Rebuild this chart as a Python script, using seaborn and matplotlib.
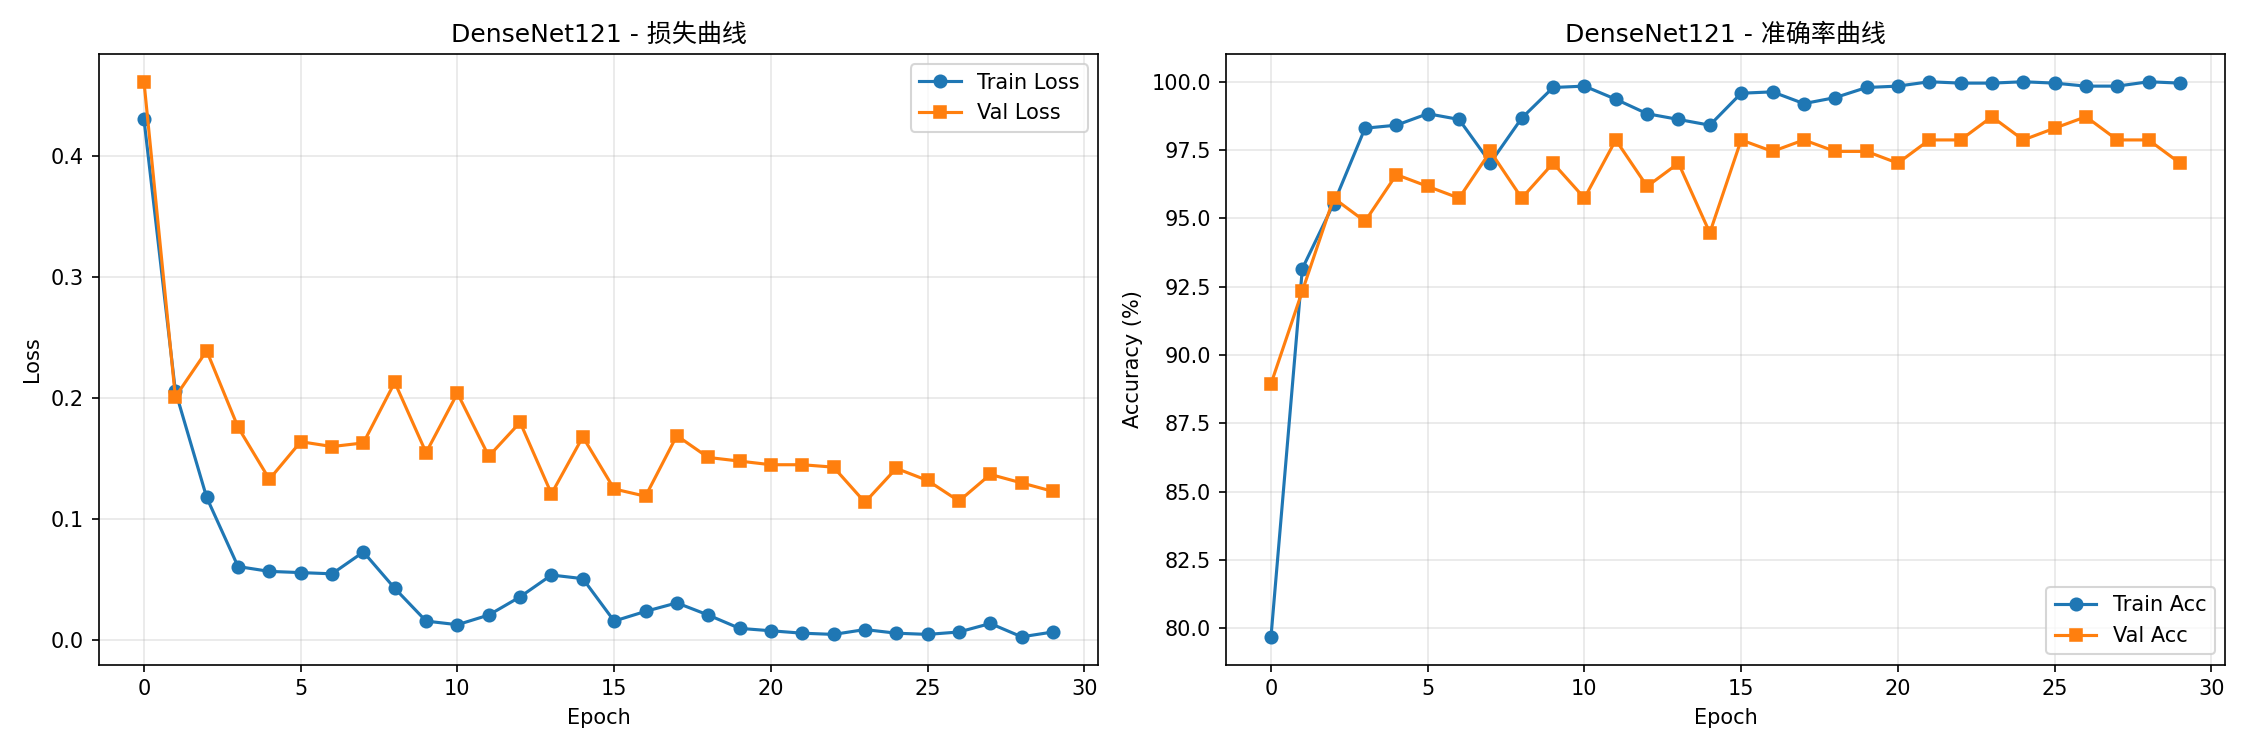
import numpy as np
import matplotlib
matplotlib.use("Agg")
import matplotlib.pyplot as plt
import seaborn as sns

plt.rcParams['font.family'] = ['DejaVu Sans', 'Noto Sans CJK SC']

# ----------------------------
# DATA
# ----------------------------

epochs = list(range(30))

train_loss = [0.430, 0.206, 0.118, 0.061, 0.057, 0.056, 0.055, 0.073, 0.043, 0.016,
              0.013, 0.021, 0.036, 0.054, 0.051, 0.016, 0.024, 0.031, 0.021, 0.010,
              0.008, 0.006, 0.005, 0.009, 0.006, 0.005, 0.007, 0.014, 0.003, 0.007]
val_loss = [0.461, 0.201, 0.239, 0.176, 0.133, 0.164, 0.160, 0.163, 0.213, 0.155,
            0.204, 0.152, 0.180, 0.121, 0.168, 0.125, 0.119, 0.169, 0.151, 0.148,
            0.145, 0.145, 0.143, 0.114, 0.142, 0.132, 0.115, 0.137, 0.130, 0.123]

train_acc = [79.68, 93.16, 95.54, 98.30, 98.41, 98.83, 98.62, 97.03, 98.67, 99.79,
             99.84, 99.36, 98.83, 98.62, 98.41, 99.58, 99.63, 99.20, 99.42, 99.79,
             99.84, 100.0, 99.95, 99.95, 100.0, 99.95, 99.84, 99.84, 100.0, 99.95]
val_acc = [88.94, 92.34, 95.74, 94.89, 96.60, 96.17, 95.74, 97.45, 95.74, 97.02,
           95.74, 97.87, 96.17, 97.02, 94.47, 97.87, 97.45, 97.87, 97.45, 97.45,
           97.02, 97.87, 97.87, 98.72, 97.87, 98.30, 98.72, 97.87, 97.87, 97.02]

model_name = "DenseNet121"

# ----------------------------
# PLOT
# ----------------------------

fig, axes = plt.subplots(1, 2, figsize=(15, 5), dpi=150)

blue = "#1f77b4"
orange = "#ff7f0e"

def draw(ax, y, label, marker, color):
    sns.lineplot(x=epochs, y=y, marker=marker, label=label, color=color, ax=ax,
                 markersize=6, markeredgecolor=color, linewidth=1.5)

# loss
ax = axes[0]
draw(ax, train_loss, "Train Loss", "o", blue)
draw(ax, val_loss, "Val Loss", "s", orange)
ax.set_title(f"{model_name} - 损失曲线")
ax.set_xlabel("Epoch")
ax.set_ylabel("Loss")
ax.grid(True, alpha=0.3)
ax.legend(loc="upper right")

# accuracy
ax = axes[1]
draw(ax, train_acc, "Train Acc", "o", blue)
draw(ax, val_acc, "Val Acc", "s", orange)
ax.set_title(f"{model_name} - 准确率曲线")
ax.set_xlabel("Epoch")
ax.set_ylabel("Accuracy (%)")
ax.grid(True, alpha=0.3)
ax.legend(loc="lower right")

plt.tight_layout()
plt.savefig("out.png")
